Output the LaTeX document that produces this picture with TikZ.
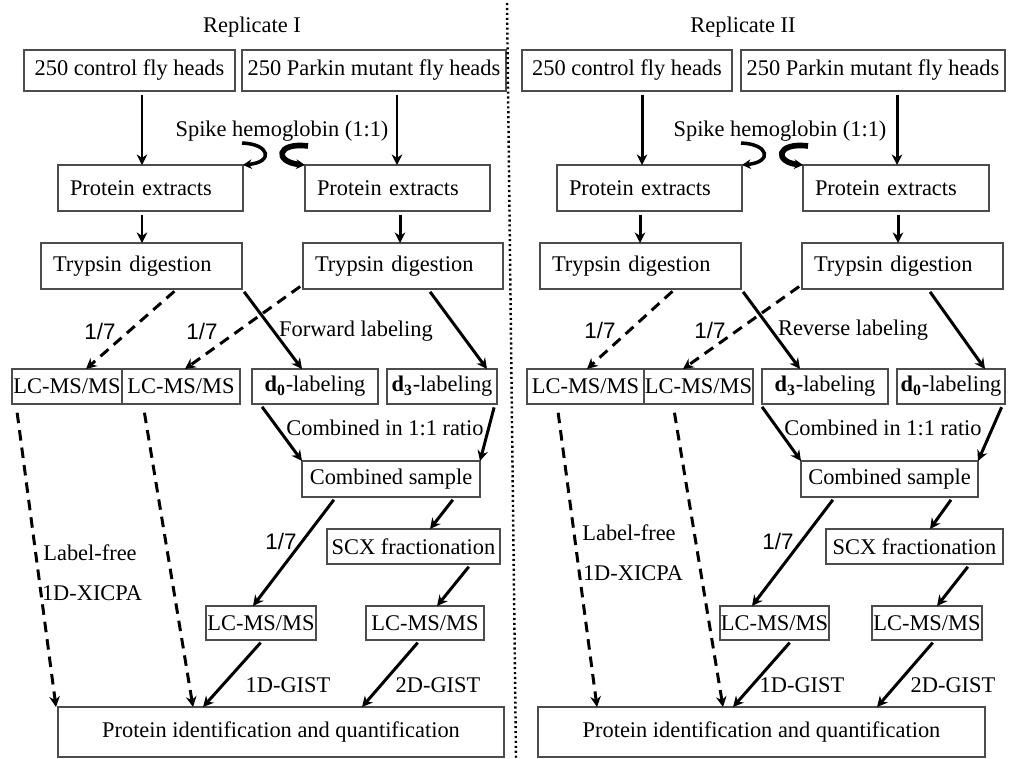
\documentclass[tikz,border=0pt]{standalone}
\usepackage{fontspec}
\setmainfont{Liberation Serif}
\newfontfamily\sansf{Liberation Sans}
\usetikzlibrary{arrows.meta,calc}
\tikzset{
  base/.style={font=\fontsize{12.75}{15}\selectfont},
  box/.style={base,draw=black!70,line width=0.8pt,inner sep=0pt,outer sep=0pt},
  lbl/.style={base,inner sep=0pt},
  slbl/.style={font=\sansf\fontsize{12.75}{15}\selectfont,inner sep=0pt},
  arr/.style={line width=1.7pt,-{Stealth[length=6pt,width=6pt]},shorten <=2pt},
  darr/.style={arr,dash pattern=on 6pt off 4pt},
  curlA/.style={line width=2pt,-{Stealth[length=5pt,width=5.5pt]}},
  curlB/.style={line width=3.2pt,-{Stealth[length=5pt,width=5.5pt]}},
  divider/.style={line width=1.4pt,dash pattern=on 1.2pt off 1.6pt}
}
% box with centred text: name, x1, y1, x2, y2, text
\newcommand{\cbox}[6]{\node[box,minimum width={(#4-#2)*0.02cm},minimum height={(#5-#3)*0.02cm}] (#1) at ({(#2+#4)/2},{(#3+#5)/2}) {#6};}
% box with left aligned text
\newcommand{\lbox}[6]{\node[box,inner xsep=0.24cm,text width={(#4-#2-24)*0.02cm},align=left,minimum height={(#5-#3)*0.02cm}] (#1) at ({(#2+#4)/2},{(#3+#5)/2}) {#6};}
\begin{document}
\begin{tikzpicture}[x=0.02cm,y=-0.02cm]
\useasboundingbox (0,0) rectangle (1010,758);
\fill[white] (0,0) rectangle (1010,758);

% ---------------- Replicate I ----------------
\node[lbl] (t1) at (252,27) {Replicate I};
\cbox{a1}{24}{50}{235}{91}{250 control fly heads}
\cbox{a2}{242}{50}{506}{91}{250 Parkin mutant fly heads}
\lbox{p1}{58}{165}{243}{211}{Protein extracts}
\lbox{p2}{305}{165}{490}{211}{Protein extracts}
\lbox{tr1}{41}{243}{242}{289}{Trypsin digestion}
\lbox{tr2}{303}{243}{503}{289}{Trypsin digestion}
\cbox{l1}{12}{369}{122}{404}{LC-MS/MS}
\cbox{l2}{122}{369}{240}{404}{LC-MS/MS}
\cbox{d0}{252}{369}{378}{404}{\textbf{d}\textsubscript{\textbf{0}}-labeling}
\cbox{d3}{387}{369}{497}{404}{\textbf{d}\textsubscript{\textbf{3}}-labeling}
\cbox{cs}{302}{461}{480}{497}{Combined sample}
\cbox{scx}{327}{529}{500}{564}{SCX fractionation}
\cbox{l3}{206}{606}{316}{640}{LC-MS/MS}
\cbox{l4}{366}{606}{484}{640}{LC-MS/MS}
\cbox{pid}{58}{707}{504}{757}{Protein identification and quantification}

\node[lbl] (spike1) at (282,131) {Spike hemoglobin (1:1)};
\node[slbl] (fa1) at (100,331) {1/7};
\node[slbl] (fb1) at (202,331) {1/7};
\node[lbl] (fwd) at (356,331) {Forward labeling};
\node[lbl] (comb1) at (385,428) {Combined in 1:1 ratio};
\node[slbl] (fc1) at (281,541) {1/7};
\node[lbl] (lf1) at (90,553) {Label-free};
\node[lbl] (xi1) at (92,593) {1D-XICPA};
\node[lbl] (g11) at (288,685) {1D-GIST};
\node[lbl] (g21) at (438,685) {2D-GIST};

\coordinate (cl1) at (242,143);
\coordinate (cr1) at (308,146);
\draw[curlA] (cl1) .. controls (270,144) and (274,162) .. (p1.north east);
\draw[curlB] (cr1) .. controls (276,142) and (274,162) .. (p2.north west);

\draw[arr] (a1.south -| 142,0) -- (p1.north -| 142,0);
\draw[arr] (a2.south -| 397,0) -- (p2.north -| 397,0);
\draw[arr] (p1.south -| 142,0) -- (tr1.north -| 142,0);
\draw[arr] (p2.south -| 400,0) -- (tr2.north -| 400,0);
\draw[darr] (tr1.south -| 177,0) -- (l1.north -| 86,0);
\draw[darr] ([yshift=0.09cm]tr2.south west) -- (l2.north -| 185,0);
\draw[arr] (tr1.south east) -- (d0.north -| 302,0);
\draw[arr] (tr2.south -| 428,0) -- (d3.north -| 487,0);
\draw[arr] (d0.south -| 260,0) -- (cs.north west);
\draw[arr] (d3.south -| 495,0) -- (cs.north east);
\draw[arr] (cs.south -| 336,0) -- (l3.north -| 253,0);
\draw[arr] (cs.south -| 455,0) -- (scx.north -| 430,0);
\draw[arr] (scx.south -| 471,0) -- (l4.north -| 437,0);
\draw[arr] (l3.south -| 263,0) -- (pid.north -| 203,0);
\draw[arr] (l4.south -| 420,0) -- (pid.north -| 362,0);
\draw[darr,shorten <=5pt] (l1.south -| 16,0) -- (pid.north -| 56,0);
\draw[darr,shorten <=5pt] (l2.south -| 143,0) -- (pid.north -| 193,0);

% ---------------- divider ----------------
\coordinate (dvt) at (507,3);
\coordinate (dvb) at (516,758);
\draw[divider] (dvt) -- (dvb);

% ---------------- Replicate II ----------------
\node[lbl] (t2) at (743,27) {Replicate II};
\cbox{b1}{522}{50}{732}{91}{250 control fly heads}
\cbox{b2}{741}{50}{1005}{91}{250 Parkin mutant fly heads}
\lbox{q1}{557}{165}{742}{211}{Protein extracts}
\lbox{q2}{803}{165}{989}{211}{Protein extracts}
\lbox{s1}{540}{243}{741}{289}{Trypsin digestion}
\lbox{s2}{802}{243}{1003}{289}{Trypsin digestion}
\cbox{m1}{527}{369}{644}{404}{LC-MS/MS}
\cbox{m2}{644}{369}{753}{404}{LC-MS/MS}
\cbox{e3}{762}{369}{888}{404}{\textbf{d}\textsubscript{\textbf{3}}-labeling}
\cbox{e0}{897}{369}{1005}{404}{\textbf{d}\textsubscript{\textbf{0}}-labeling}
\cbox{cs2}{801}{461}{978}{497}{Combined sample}
\cbox{scx2}{826}{529}{1003}{564}{SCX fractionation}
\cbox{m3}{720}{606}{829}{640}{LC-MS/MS}
\cbox{m4}{872}{606}{982}{640}{LC-MS/MS}
\cbox{pid2}{538}{707}{985}{757}{Protein identification and quantification}

\node[lbl] (spike2) at (780,131) {Spike hemoglobin (1:1)};
\node[slbl] (fa2) at (600,330) {1/7};
\node[slbl] (fb2) at (710,330) {1/7};
\node[lbl] (rev) at (853,330) {Reverse labeling};
\node[lbl] (comb2) at (883,428) {Combined in 1:1 ratio};
\node[slbl] (fc2) at (778,541) {1/7};
\node[lbl] (lf2) at (629,533) {Label-free};
\node[lbl] (xi2) at (633,573) {1D-XICPA};
\node[lbl] (g12) at (802,685) {1D-GIST};
\node[lbl] (g22) at (953,685) {2D-GIST};

\coordinate (cl2) at (741,143);
\coordinate (cr2) at (808,146);
\draw[curlA] (cl2) .. controls (769,144) and (773,162) .. (q1.north east);
\draw[curlB] (cr2) .. controls (776,142) and (774,162) .. (q2.north west);

\draw[arr] (b1.south -| 642,0) -- (q1.north -| 642,0);
\draw[arr] (b2.south -| 897,0) -- (q2.north -| 897,0);
\draw[arr] (q1.south -| 640,0) -- (s1.north -| 640,0);
\draw[arr] (q2.south -| 898,0) -- (s2.north -| 898,0);
\draw[darr] (s1.south -| 675,0) -- (m1.north -| 587,0);
\draw[darr] ([yshift=0.09cm]s2.south west) -- (m2.north -| 683,0);
\draw[arr] (s1.south east) -- (e3.north -| 800,0);
\draw[arr] (s2.south -| 928,0) -- (e0.north -| 985,0);
\draw[arr] (e3.south -| 760,0) -- (cs2.north west);
\draw[arr] (e0.south -| 1003,0) -- (cs2.north east);
\draw[arr] (cs2.south -| 835,0) -- (m3.north -| 752,0);
\draw[arr] (cs2.south -| 953,0) -- (scx2.north -| 930,0);
\draw[arr] (scx2.south -| 970,0) -- (m4.north -| 937,0);
\draw[arr] (m3.south -| 792,0) -- (pid2.north -| 733,0);
\draw[arr] (m4.south -| 935,0) -- (pid2.north -| 877,0);
\draw[darr,shorten <=5pt] (m1.south -| 557,0) -- (pid2.north -| 597,0);
\draw[darr,shorten <=5pt] (m2.south -| 673,0) -- (pid2.north -| 723,0);
\end{tikzpicture}
\end{document}
